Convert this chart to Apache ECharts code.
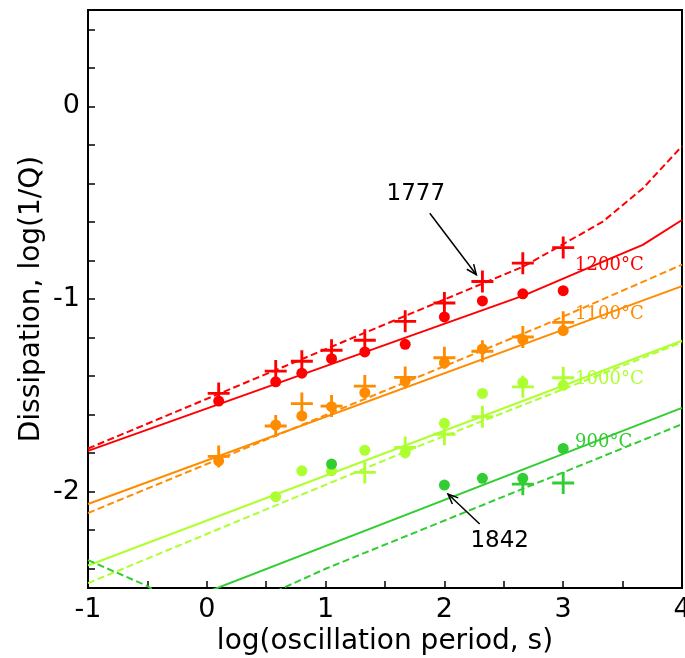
<!DOCTYPE html>
<html>
<head>
<meta charset="utf-8">
<script src="https://cdn.jsdelivr.net/npm/echarts@6/dist/echarts.min.js"></script>
<style>
  html, body { margin: 0; padding: 0; background: #fff; }
  #chart { width: 685px; height: 658px; }
</style>
</head>
<body>
<div id="chart"></div>
<script>
// log periods of the measurements
var periods = [0.1, 0.58, 0.8, 1.05, 1.33, 1.67, 2.0, 2.32, 2.66, 3.0];

// dots (one sample) and crosses (other sample), log(1/Q)
var dots1200 = [-1.53, -1.43, -1.385, -1.31, -1.275, -1.235, -1.093, -1.01, -0.973, -0.957];
var cross1200 = [-1.49, -1.374, -1.323, -1.266, -1.214, -1.116, -1.021, -0.909, -0.814, -0.733];
var dots1100 = [-1.84, -1.654, -1.607, -1.559, -1.486, -1.426, -1.331, -1.259, -1.211, -1.164];
var cross1100 = [-1.817, -1.659, -1.543, -1.556, -1.452, -1.407, -1.305, -1.271, -1.197, -1.121];
var dots1000 = [null, -2.026, -1.892, -1.892, -1.785, -1.797, -1.645, -1.49, -1.433, -1.448];
var cross1000 = [null, null, null, null, -1.9, -1.771, -1.702, -1.611, -1.456, -1.409];
var dots900 = [null, null, null, -1.857, null, null, -1.966, -1.931, -1.931, -1.776];
var cross900 = [null, null, null, null, null, null, null, null, -1.961, -1.955];

// model curves [log period, log(1/Q)]
var fit1200 = [[-1, -1.788], [2.67, -0.981], [3.33, -0.807], [3.67, -0.719], [4, -0.59]];
var fit1200b = [[-1, -1.776], [2.67, -0.83], [3.33, -0.6], [3.67, -0.426], [4, -0.207]];
var fit1100 = [[-1, -2.064], [4, -0.933]];
var fit1100b = [[-1, -2.111], [2.8, -1.145], [4, -0.822]];
var fit1000 = [[-1, -2.383], [4, -1.217]];
var fit1000b = [[-1, -2.475], [1.8, -1.76], [4, -1.225]];
var fit900 = [[-1, -2.76], [4, -1.565]];
var fit900b = [[-1, -2.355], [-0.5, -2.49], [0, -2.68], [1, -2.4], [4, -1.65]];

var xTicks = [-1, -0.5, 0, 0.5, 1, 1.5, 2, 2.5, 3, 3.5, 4];
var xLabels = [-1, 0, 1, 2, 3, 4];
var yTicks = [-2.4, -2.2, -2, -1.8, -1.6, -1.4, -1.2, -1, -0.8, -0.6, -0.4, -0.2, 0, 0.2, 0.4];
var yLabels = [-2, -1, 0];

var colors = { c1200: '#ff0000', c1100: '#ff8c00', c1000: '#adff2f', c900: '#32cd32' };

// text notes: [label, x, y, colour]
var tempNotes = [['1200°C', 3.1, -0.823, colors.c1200], ['1100°C', 3.1, -1.081, colors.c1100],
  ['1000°C', 3.1, -1.418, colors.c1000], ['900°C', 3.1, -1.745, colors.c900]];
// arrow notes: label, text pos, tail, head
var arrowNotes = [
  ['1777', [1.759, -0.455], [1.877, -0.555], [2.269, -0.874]],
  ['1842', [2.465, -2.256], [2.297, -2.168], [2.03, -2.012]]
];

var CROSS = 'path://M8.7,0H11.3V8.7H20V11.3H11.3V20H8.7V11.3H0V8.7H8.7Z';

function pairs (vals) {
  var out = [];
  for (var i = 0; i < periods.length; i++) {
    if (vals[i] != null) out.push([periods[i], vals[i]]);
  }
  return out;
}

function fitLine (data, color, dashed) {
  return {
    type: 'line', data: data, showSymbol: false, symbol: 'none', silent: true, z: 2,
    lineStyle: { color: color, width: 2, type: dashed ? [7, 3.5] : 'solid' }
  };
}

function dotSeries (vals, color) {
  return {
    type: 'scatter', data: pairs(vals), symbol: 'circle', symbolSize: 11, z: 3,
    itemStyle: { color: color, opacity: 1 }
  };
}

function crossSeries (vals, color) {
  return {
    type: 'scatter', data: pairs(vals), symbol: CROSS, symbolSize: 22, z: 4,
    itemStyle: { color: color, opacity: 1 }
  };
}

var font = 'DejaVu Sans';
var myChart = echarts.init(document.getElementById('chart'), null, { renderer: 'canvas' });

var option = {
  animation: false,
  backgroundColor: '#fff',
  grid: {
    left: 88, right: 3, top: 10, bottom: 70, outerBoundsMode: 'none', containLabel: false,
    show: true, borderColor: '#000', borderWidth: 2, backgroundColor: 'transparent'
  },
  xAxis: {
    type: 'value', min: -1, max: 4,
    name: 'log(oscillation period, s)', nameLocation: 'middle', nameGap: 35,
    nameTextStyle: { fontFamily: font, fontSize: 28, color: '#000' },
    axisLine: { show: true, onZero: false, lineStyle: { color: '#000', width: 2 } },
    axisTick: { show: true, inside: true, length: 7, customValues: xTicks, lineStyle: { color: '#000', width: 1.5 } },
    axisLabel: { customValues: xLabels, margin: 8, fontFamily: font, fontSize: 27, color: '#000' },
    splitLine: { show: false }
  },
  yAxis: {
    type: 'value', min: -2.5, max: 0.5,
    name: 'Dissipation, log(1/Q)', nameLocation: 'middle', nameGap: 42, nameRotate: 90,
    nameMoveOverlap: false,
    nameTextStyle: { fontFamily: font, fontSize: 28, color: '#000' },
    axisLine: { show: true, onZero: false, lineStyle: { color: '#000', width: 2 } },
    axisTick: { show: true, inside: true, length: 7, customValues: yTicks, lineStyle: { color: '#000', width: 1.5 } },
    axisLabel: { customValues: yLabels, margin: 8, fontFamily: font, fontSize: 27, color: '#000' },
    splitLine: { show: false }
  },
  series: [
    fitLine(fit1200, colors.c1200, false), fitLine(fit1200b, colors.c1200, true),
    fitLine(fit1100, colors.c1100, false), fitLine(fit1100b, colors.c1100, true),
    fitLine(fit1000, colors.c1000, false), fitLine(fit1000b, colors.c1000, true),
    fitLine(fit900, colors.c900, false), fitLine(fit900b, colors.c900, true),
    dotSeries(dots1200, colors.c1200), crossSeries(cross1200, colors.c1200),
    dotSeries(dots1100, colors.c1100), crossSeries(cross1100, colors.c1100),
    dotSeries(dots1000, colors.c1000), crossSeries(cross1000, colors.c1000),
    dotSeries(dots900, colors.c900), crossSeries(cross900, colors.c900)
  ]
};
myChart.setOption(option);

// annotations placed through the chart's own coordinate conversion
var graphics = [];
tempNotes.forEach(function (n) {
  var p = myChart.convertToPixel({ gridIndex: 0 }, [n[1], n[2]]);
  graphics.push({
    type: 'text', x: p[0], y: p[1], z: 10,
    style: { text: n[0], fill: n[3], font: '18px "DejaVu Serif"', textAlign: 'left', textVerticalAlign: 'middle' }
  });
});
arrowNotes.forEach(function (n) {
  var t = myChart.convertToPixel({ gridIndex: 0 }, n[1]);
  var a = myChart.convertToPixel({ gridIndex: 0 }, n[2]);
  var b = myChart.convertToPixel({ gridIndex: 0 }, n[3]);
  graphics.push({
    type: 'text', x: t[0], y: t[1], z: 10,
    style: { text: n[0], fill: '#000', font: '23px "DejaVu Sans"', textAlign: 'center', textVerticalAlign: 'middle' }
  });
  graphics.push({
    type: 'line', z: 10, shape: { x1: a[0], y1: a[1], x2: b[0], y2: b[1] },
    style: { stroke: '#000', lineWidth: 1.5 }
  });
  var ang = Math.atan2(b[1] - a[1], b[0] - a[0]);
  var len = 11, spread = 0.4;
  graphics.push({
    type: 'polyline', z: 10,
    shape: { points: [
      [b[0] - len * Math.cos(ang - spread), b[1] - len * Math.sin(ang - spread)],
      [b[0], b[1]],
      [b[0] - len * Math.cos(ang + spread), b[1] - len * Math.sin(ang + spread)]
    ] },
    style: { stroke: '#000', lineWidth: 1.5, fill: null }
  });
});
myChart.setOption({ graphic: graphics });
</script>
</body>
</html>
